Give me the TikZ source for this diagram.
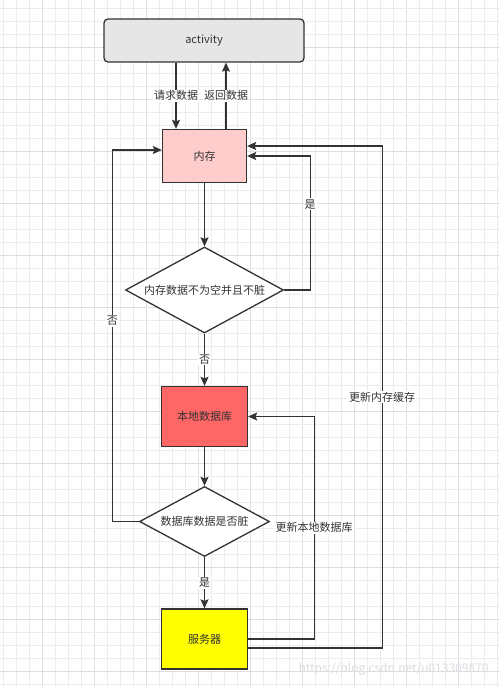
\documentclass[tikz,border=0pt]{standalone}
\usepackage{fontspec}
\setmainfont{Noto Sans CJK SC}
\usetikzlibrary{arrows.meta, shapes.geometric, calc}
\definecolor{inkc}{RGB}{51,51,51}
\definecolor{gridc}{RGB}{236,236,238}
\definecolor{gridmc}{RGB}{222,222,226}
\definecolor{actc}{RGB}{230,230,230}
\definecolor{memc}{RGB}{255,204,204}
\definecolor{dbc}{RGB}{255,102,102}
\definecolor{srvc}{RGB}{255,255,0}
\definecolor{wmc}{RGB}{220,220,225}
\tikzset{
  box/.style={
    rectangle, draw=inkc, line width=1.3pt, text=inkc,
    font=\fontsize{11}{13}\selectfont, inner sep=0pt
  },
  actbox/.style={box, fill=actc, rounded corners=4pt,
                 minimum width=200pt, minimum height=43pt},
  membox/.style={box, fill=memc, minimum width=84pt, minimum height=53pt},
  dbbox/.style={box, fill=dbc, minimum width=86pt, minimum height=60pt},
  srvbox/.style={box, fill=srvc, minimum width=86pt, minimum height=60pt},
  decide/.style={box, diamond, fill=white, aspect=1.84},
  arr/.style={-{Stealth[length=9pt, width=8pt, inset=1.5pt]}, line width=1.3pt, draw=inkc},
  lbl/.style={font=\fontsize{11}{13}\selectfont, text=inkc, fill=white, inner sep=1pt},
  minorgrid/.style={draw=gridc, line width=0.8pt},
  majorgrid/.style={draw=gridmc, line width=0.9pt},
}

\begin{document}
\begin{tikzpicture}[x=1pt, y=-1pt]
  \useasboundingbox (0,0) rectangle (500,687);
  \fill[white] (0,0) rectangle (500,687);
  % background grid
  \foreach \i in {0,...,38} {
    \pgfmathsetmacro{\gx}{3.3+13*\i}
    \pgfmathtruncatemacro{\gm}{mod(\i,4)}
    \ifnum\gm=3
      \draw[majorgrid] (\gx,0) -- (\gx,687);
    \else
      \draw[minorgrid] (\gx,0) -- (\gx,687);
    \fi
  }
  \foreach \i in {0,...,52} {
    \pgfmathsetmacro{\gy}{8.3+13*\i}
    \pgfmathtruncatemacro{\gm}{mod(\i,4)}
    \ifnum\gm=3
      \draw[majorgrid] (0,\gy) -- (500,\gy);
    \else
      \draw[minorgrid] (0,\gy) -- (500,\gy);
    \fi
  }

  % nodes
  \node[actbox] (act) at (204,40.5) {activity};
  \node[membox] (mem) at (204.5,156) {内存};
  \node[decide, minimum width=158pt, minimum height=86pt] (memok) at (204.5,290) {内存数据不为空并且不脏};
  \node[dbbox] (db) at (204.5,416.5) {本地数据库};
  \node[decide, minimum width=130pt, minimum height=70pt] (dbdirty) at (204.5,521.5) {数据库数据是否脏};
  \node[srvbox] (srv) at (204.5,639) {服务器};

  % activity <-> memory
  \draw[arr] ([xshift=-28.5pt]mem.north |- act.south) -- node[lbl] {请求数据} ([xshift=-28.5pt]mem.north);
  \draw[arr] ([xshift=21.5pt]mem.north) -- node[lbl] {返回数据} ([xshift=21.5pt]mem.north |- act.south);

  % main flow
  \draw[arr] (mem.south) -- (memok.north);
  \draw[arr] (memok.south) -- node[lbl] {否} (db.north);
  \draw[arr] (db.south) -- (dbdirty.north);
  \draw[arr] (dbdirty.south) -- node[lbl] {是} (srv.north);

  % loops back
  \draw[arr] (memok.east) -- ++(26,0) |- node[lbl, pos=0.32] {是} (mem.east);
  \draw[arr] (dbdirty.west) -- ++(-26.5,0) |- node[lbl, pos=0.27] {否} ([yshift=6pt]mem.west);
  \draw[arr] (srv.east) -- ++(66,0) |- node[lbl, pos=0.25] {更新本地数据库} (db.east);
  \draw[arr] ([yshift=-9pt]srv.east) -- ++(134,0) |- node[lbl, pos=0.25] {更新内存缓存} ([yshift=10pt]mem.east);

  % watermark
  \node[text=wmc, font=\fontsize{12}{14}\selectfont, anchor=east] (wm) at (492,669) {https://blog.csdn.net/u013309870};
\end{tikzpicture}
\end{document}
